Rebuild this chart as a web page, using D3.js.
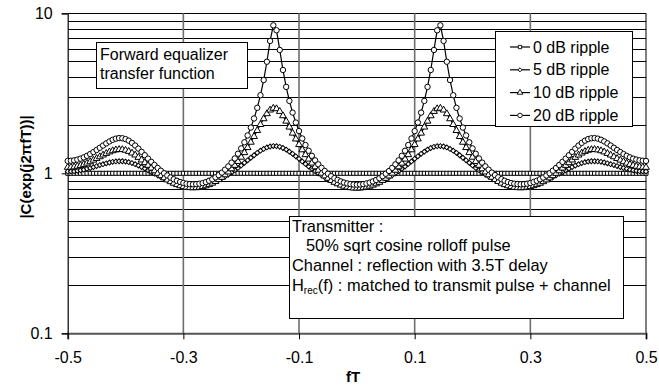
<!DOCTYPE html>
<html>
<head>
<meta charset="utf-8">
<script src="https://cdn.jsdelivr.net/npm/d3@7"></script>
<style>
body { margin: 0; background: #fff; }
svg text { font-family: "Liberation Sans", Arial, sans-serif; fill: #000; }
</style>
</head>
<body>
<div id="chart"></div>
<script>
const width = 659;
const height = 389;

// ********* DATA *********
// frequency grid, 1/180 spacing
const fT = d3.range(-90, 91).map(function(k){ return k / 180; });

const ripple0 = [
  1,1,1,1,1,1,1,1,1,1, 1,1,1,1,1,1,1,1,1,1, 1,1,1,1,1,1,1,1,1,1,
  1,1,1,1,1,1,1,1,1,1, 1,1,1,1,1,1,1,1,1,1, 1,1,1,1,1,1,1,1,1,1,
  1,1,1,1,1,1,1,1,1,1, 1,1,1,1,1,1,1,1,1,1, 1,1,1,1,1,1,1,1,1,1,
  1,
  1,1,1,1,1,1,1,1,1,1, 1,1,1,1,1,1,1,1,1,1, 1,1,1,1,1,1,1,1,1,1,
  1,1,1,1,1,1,1,1,1,1, 1,1,1,1,1,1,1,1,1,1, 1,1,1,1,1,1,1,1,1,1,
  1,1,1,1,1,1,1,1,1,1, 1,1,1,1,1,1,1,1,1,1, 1,1,1,1,1,1,1,1,1,1
];

const ripple5 = [
  1.026,1.028,1.031,1.037,1.044,1.054,1.066,1.079,1.093,1.109,
  1.125,1.140,1.155,1.168,1.179,1.186,1.189,1.189,1.183,1.173,
  1.158,1.140,1.119,1.095,1.070,1.045,1.019,0.994,0.971,0.948,
  0.927,0.909,0.892,0.877,0.865,0.855,0.847,0.841,0.837,0.836,
  0.837,0.840,0.846,0.854,0.865,0.878,0.893,0.912,0.933,0.956,
  0.983,1.013,1.046,1.081,1.120,1.162,1.206,1.251,1.297,1.342,
  1.384,1.421,1.451,1.471,1.480,1.478,1.463,1.439,1.406,1.366,
  1.323,1.277,1.232,1.187,1.144,1.103,1.066,1.031,1.000,0.971,
  0.946,0.923,0.904,0.886,0.872,0.860,0.850,0.842,0.837,0.834,
  0.833,
  0.834,0.837,0.842,0.850,0.860,0.872,0.886,0.904,0.923,0.946,
  0.971,1.000,1.031,1.066,1.103,1.144,1.187,1.232,1.277,1.323,
  1.366,1.406,1.439,1.463,1.478,1.480,1.471,1.451,1.421,1.384,
  1.342,1.297,1.251,1.206,1.162,1.120,1.081,1.046,1.013,0.983,
  0.956,0.933,0.912,0.893,0.878,0.865,0.854,0.846,0.840,0.837,
  0.836,0.837,0.841,0.847,0.855,0.865,0.877,0.892,0.909,0.927,
  0.948,0.971,0.994,1.019,1.045,1.070,1.095,1.119,1.140,1.158,
  1.173,1.183,1.189,1.189,1.186,1.179,1.168,1.155,1.140,1.125,
  1.109,1.093,1.079,1.066,1.054,1.044,1.037,1.031,1.028,1.026
];

const ripple10 = [
  1.089,1.091,1.096,1.106,1.119,1.136,1.157,1.181,1.208,1.237,
  1.268,1.300,1.331,1.360,1.383,1.400,1.408,1.406,1.393,1.370,
  1.338,1.300,1.257,1.211,1.165,1.120,1.077,1.036,0.999,0.966,
  0.936,0.909,0.886,0.866,0.849,0.836,0.825,0.818,0.813,0.812,
  0.813,0.817,0.825,0.835,0.849,0.867,0.888,0.913,0.943,0.978,
  1.019,1.066,1.121,1.185,1.260,1.346,1.447,1.563,1.698,1.850,
  2.017,2.191,2.356,2.485,2.550,2.532,2.436,2.288,2.117,1.944,
  1.782,1.638,1.511,1.402,1.307,1.226,1.157,1.097,1.045,1.001,
  0.962,0.930,0.902,0.878,0.859,0.843,0.830,0.820,0.813,0.809,
  0.808,
  0.809,0.813,0.820,0.830,0.843,0.859,0.878,0.902,0.930,0.962,
  1.001,1.045,1.097,1.157,1.226,1.307,1.402,1.511,1.638,1.782,
  1.944,2.117,2.288,2.436,2.532,2.550,2.485,2.356,2.191,2.017,
  1.850,1.698,1.563,1.447,1.346,1.260,1.185,1.121,1.066,1.019,
  0.978,0.943,0.913,0.888,0.867,0.849,0.835,0.825,0.817,0.813,
  0.812,0.813,0.818,0.825,0.836,0.849,0.866,0.886,0.909,0.936,
  0.966,0.999,1.036,1.077,1.120,1.165,1.211,1.257,1.300,1.338,
  1.370,1.393,1.406,1.408,1.400,1.383,1.360,1.331,1.300,1.268,
  1.237,1.208,1.181,1.157,1.136,1.119,1.106,1.096,1.091,1.089
];

const ripple20 = [
  1.195,1.198,1.205,1.218,1.235,1.258,1.286,1.319,1.357,1.399,
  1.444,1.491,1.538,1.582,1.620,1.647,1.660,1.656,1.636,1.599,
  1.549,1.491,1.427,1.362,1.297,1.236,1.179,1.127,1.080,1.038,
  1.001,0.969,0.941,0.918,0.898,0.882,0.870,0.861,0.856,0.854,
  0.856,0.861,0.869,0.881,0.898,0.918,0.944,0.974,1.010,1.054,
  1.105,1.166,1.238,1.325,1.431,1.562,1.724,1.931,2.201,2.566,
  3.076,3.827,4.981,6.719,8.410,7.830,5.900,4.423,3.467,2.835,
  2.395,2.076,1.836,1.650,1.502,1.383,1.286,1.205,1.138,1.082,
  1.034,0.994,0.960,0.932,0.909,0.890,0.875,0.864,0.856,0.851,
  0.849,
  0.851,0.856,0.864,0.875,0.890,0.909,0.932,0.960,0.994,1.034,
  1.082,1.138,1.205,1.286,1.383,1.502,1.650,1.836,2.076,2.395,
  2.835,3.467,4.423,5.900,7.830,8.410,6.719,4.981,3.827,3.076,
  2.566,2.201,1.931,1.724,1.562,1.431,1.325,1.238,1.166,1.105,
  1.054,1.010,0.974,0.944,0.918,0.898,0.881,0.869,0.861,0.856,
  0.854,0.856,0.861,0.870,0.882,0.898,0.918,0.941,0.969,1.001,
  1.038,1.080,1.127,1.179,1.236,1.297,1.362,1.427,1.491,1.549,
  1.599,1.636,1.656,1.660,1.647,1.620,1.582,1.538,1.491,1.444,
  1.399,1.357,1.319,1.286,1.258,1.235,1.218,1.205,1.198,1.195
];

const seriesNames = ["0 dB ripple", "5 dB ripple", "10 dB ripple", "20 dB ripple"];
const xTicks = [-0.5, -0.3, -0.1, 0.1, 0.3, 0.5];
const yTicks = [0.1, 1, 10];

var series = [
  {name: seriesNames[0], values: ripple0, shape: "square"},
  {name: seriesNames[1], values: ripple5, shape: "diamond"},
  {name: seriesNames[2], values: ripple10, shape: "triangle"},
  {name: seriesNames[3], values: ripple20, shape: "circle"}
];

// ********* SCALES *********
var plot = {left: 67.7, right: 646, top: 13.3, bottom: 333.3};
var x = d3.scaleLinear().domain([-0.5, 0.5]).range([plot.left, plot.right]);
var y = d3.scaleLog().domain([0.1, 10]).range([plot.bottom, plot.top]);

var svg = d3.select("#chart").append("svg")
  .attr("width", width)
  .attr("height", height);

// ********* GRID *********
var hGrid = [];
[0.1, 1].forEach(function(dec){
  for (var k = 1; k <= 9; k++) hGrid.push(dec * k);
});
hGrid.push(10);

svg.append("g").selectAll("line")
  .data(hGrid.filter(function(d){ return d > 0.1; }))
  .enter().append("line")
  .attr("x1", plot.left).attr("x2", plot.right)
  .attr("y1", function(d){ return Math.round(y(d)) + 0.5; })
  .attr("y2", function(d){ return Math.round(y(d)) + 0.5; })
  .attr("stroke", "#000").attr("stroke-width", 1)
  .attr("shape-rendering", "crispEdges");

svg.append("g").selectAll("line")
  .data([-0.3, -0.1, 0.1, 0.3])
  .enter().append("line")
  .attr("x1", function(d){ return x(d); }).attr("x2", function(d){ return x(d); })
  .attr("y1", plot.top).attr("y2", plot.bottom)
  .attr("stroke", "#6e6e6e").attr("stroke-width", 1.6);

// right border
svg.append("line")
  .attr("x1", x(0.5)).attr("x2", x(0.5))
  .attr("y1", plot.top).attr("y2", plot.bottom)
  .attr("stroke", "#000").attr("stroke-width", 1);

// ********* AXES *********
var xAxis = svg.append("g")
  .attr("transform", "translate(0," + plot.bottom + ")")
  .call(d3.axisBottom(x).tickValues(xTicks).tickSize(6).tickPadding(12)
    .tickFormat(function(d){ return String(d); }));
xAxis.select(".domain").attr("stroke", "#555").attr("stroke-width", 2);
xAxis.selectAll(".tick line").attr("stroke", "#000");
xAxis.selectAll("text").style("font-size", "16px")
  .style("font-family", "'Liberation Sans', Arial, sans-serif").attr("fill", "#000");

var yAxis = svg.append("g")
  .attr("transform", "translate(" + plot.left + ",0)")
  .call(d3.axisLeft(y).tickValues(yTicks).tickSize(6).tickPadding(9)
    .tickFormat(function(d){ return String(d); }));
yAxis.select(".domain").attr("stroke", "#000").attr("stroke-width", 1.2);
yAxis.selectAll(".tick line").attr("stroke", "#000");
yAxis.selectAll("text").style("font-size", "16px")
  .style("font-family", "'Liberation Sans', Arial, sans-serif").attr("fill", "#000");

// axis titles
svg.append("text")
  .attr("x", 353).attr("y", 382)
  .attr("text-anchor", "middle")
  .style("font-size", "15px").style("font-weight", "bold")
  .text("fT");

svg.append("text")
  .attr("transform", "translate(31,167) rotate(-90)")
  .attr("text-anchor", "middle")
  .style("font-size", "15px").style("font-weight", "bold")
  .text("|C(exp(j2\u03C0fT))|");

// ********* MARKERS *********
function markerPath(shape, s){
  if (shape === "square") return d3.symbol().type(d3.symbolSquare).size(16 * s)();
  if (shape === "diamond") return d3.symbol().type(d3.symbolSquare).size(12 * s)();
  if (shape === "triangle") return d3.symbol().type(d3.symbolTriangle).size(20 * s)();
  return d3.symbol().type(d3.symbolCircle).size(23 * s)();
}

var line = d3.line()
  .x(function(d){ return x(d.f); })
  .y(function(d){ return y(d.v); });

series.forEach(function(s){
  var pts = fT.map(function(f, i){ return {f: f, v: s.values[i]}; });
  var g = svg.append("g").attr("class", "series");
  g.append("path")
    .datum(pts)
    .attr("d", line)
    .attr("fill", "none")
    .attr("stroke", "#000")
    .attr("stroke-width", 1.2);
  g.selectAll("path.mk")
    .data(pts)
    .enter().append("path")
    .attr("class", "mk")
    .attr("d", markerPath(s.shape, 1))
    .attr("transform", function(d){
      var r = s.shape === "diamond" ? " rotate(45)" : "";
      return "translate(" + x(d.f) + "," + y(d.v) + ")" + r;
    })
    .attr("fill", "#fff")
    .attr("stroke", "#000")
    .attr("stroke-width", 1);
});

// ********* TEXT BOXES *********
var fwd = svg.append("g");
fwd.append("rect")
  .attr("x", 96.5).attr("y", 42.5).attr("width", 151).attr("height", 46)
  .attr("fill", "#fff").attr("stroke", "#000");
fwd.selectAll("text")
  .data(["Forward equalizer", "transfer function"])
  .enter().append("text")
  .attr("x", 100)
  .attr("y", function(d, i){ return 59.5 + i * 19; })
  .style("font-size", "16px")
  .text(function(d){ return d; });

var info = svg.append("g");
info.append("rect")
  .attr("x", 289.5).attr("y", 216.5).attr("width", 334).attr("height", 102)
  .attr("fill", "#fff").attr("stroke", "#000");
var infoLines = [
  {x: 292, t: "Transmitter :"},
  {x: 306, t: "50% sqrt cosine rolloff pulse"},
  {x: 292, t: "Channel : reflection with 3.5T delay"}
];
info.selectAll("text.il")
  .data(infoLines)
  .enter().append("text")
  .attr("class", "il")
  .attr("x", function(d){ return d.x; })
  .attr("y", function(d, i){ return 231.5 + i * 19.8; })
  .style("font-size", "16.4px")
  .text(function(d){ return d.t; });
var hLine = info.append("text")
  .attr("x", 292).attr("y", 291)
  .style("font-size", "16.4px");
hLine.append("tspan").text("H");
hLine.append("tspan").attr("dy", 3).style("font-size", "10px").text("rec");
hLine.append("tspan").attr("dy", -3).text("(f) : matched to transmit pulse + channel");

// ********* LEGEND *********
var legend = svg.append("g");
legend.append("rect")
  .attr("x", 495.5).attr("y", 31.5).attr("width", 137).attr("height", 95)
  .attr("fill", "#fff").attr("stroke", "#000");
var entry = legend.selectAll(".entry")
  .data(series)
  .enter().append("g")
  .attr("class", "entry")
  .attr("transform", function(d, i){ return "translate(0," + (47 + i * 22.8) + ")"; });
entry.append("line")
  .attr("x1", 510).attr("x2", 530)
  .attr("stroke", "#000").attr("stroke-width", 1.2);
entry.append("path")
  .attr("d", function(d){ return markerPath(d.shape, 0.7); })
  .attr("transform", function(d){
    return "translate(520,0)" + (d.shape === "diamond" ? " rotate(45)" : "");
  })
  .attr("fill", "#fff").attr("stroke", "#000").attr("stroke-width", 0.9);
entry.append("text")
  .attr("x", 533).attr("y", 5.5)
  .style("font-size", "16px")
  .text(function(d){ return d.name; });
</script>
</body>
</html>
